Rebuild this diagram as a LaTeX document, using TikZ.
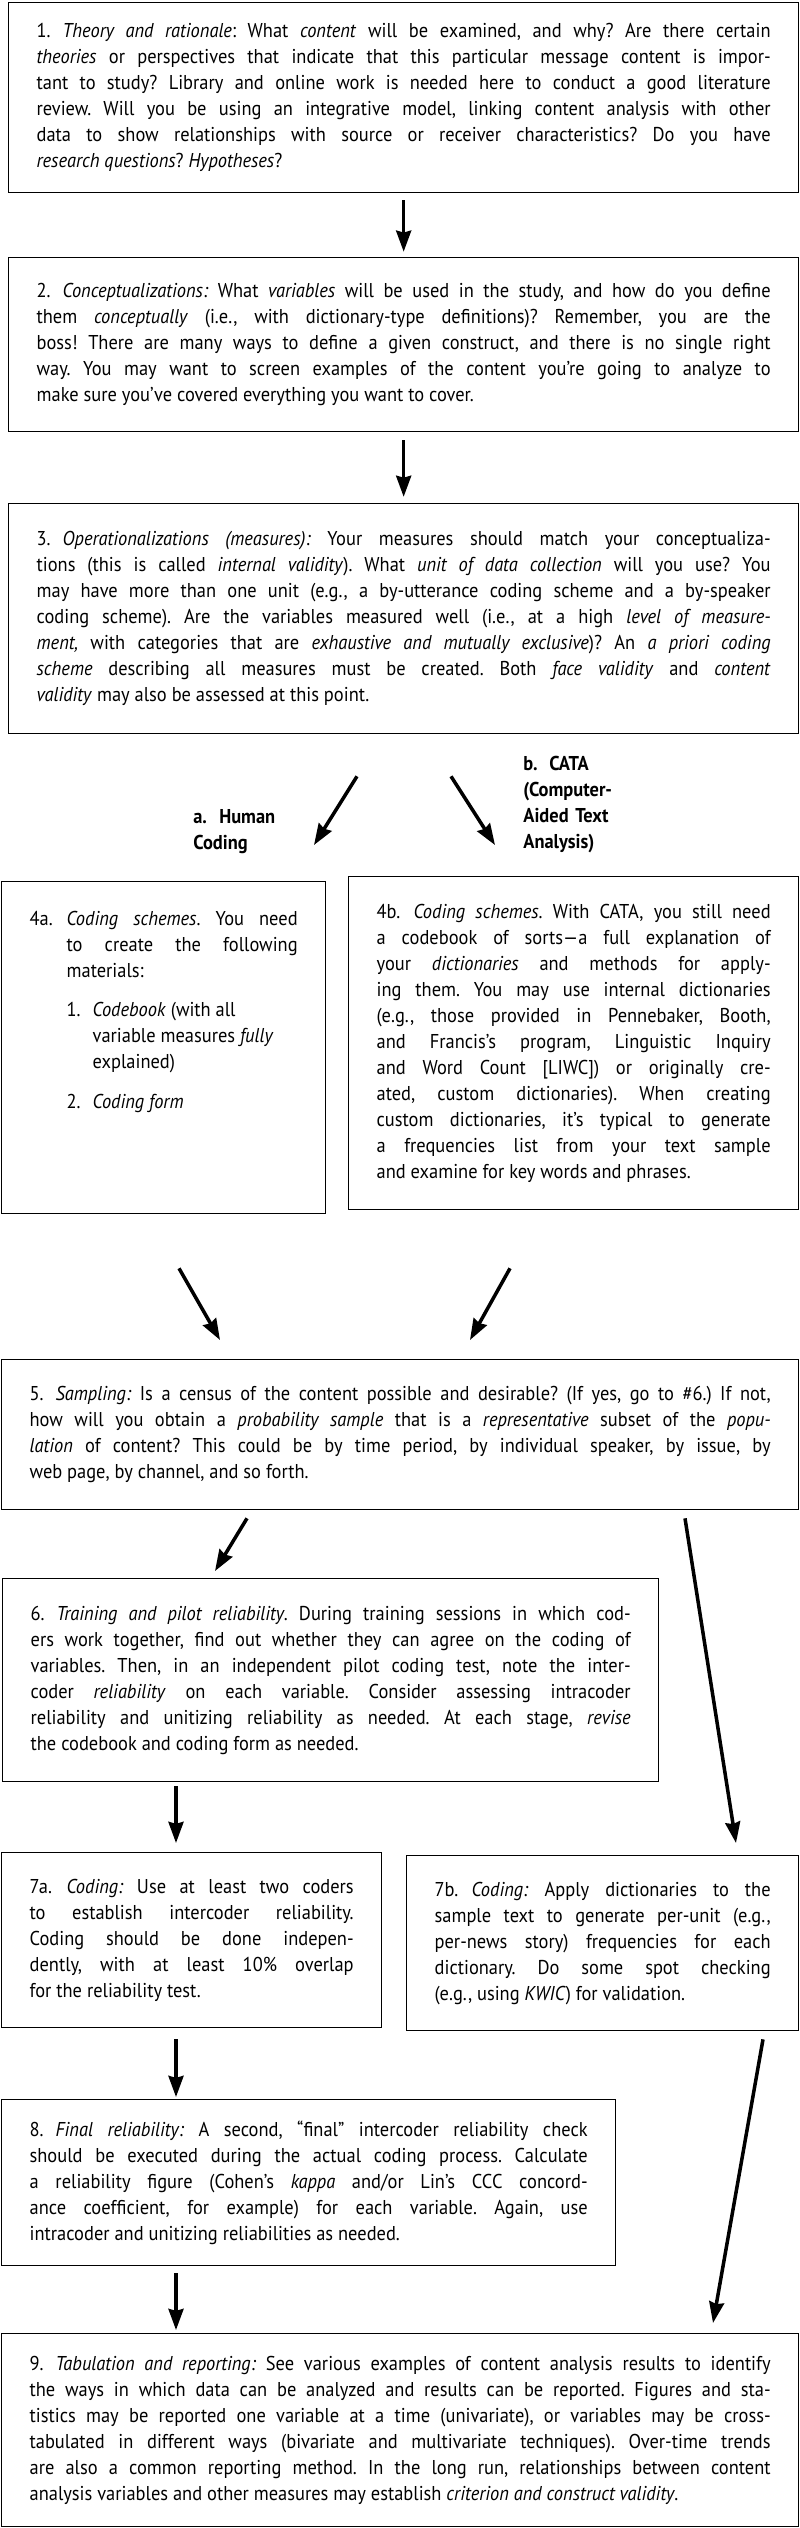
\documentclass[tikz,border=0pt]{standalone}
\usepackage{fontspec}
\setmainfont{PT Sans}[FakeStretch=0.92]
\usepackage{tikz}
\usetikzlibrary{arrows.meta,calc}
\frenchspacing

\newlength{\px}
\setlength{\px}{0.02cm}
\newcommand{\stepno}[2][26\px]{\hangindent=#1\hangafter=1\noindent\makebox[#1][l]{#2}}

\begin{document}
\begin{tikzpicture}[
x=0.02cm,y=-0.02cm,
stepbox/.style={draw, line width=0.75pt, anchor=north west, inner xsep=28\px, inner ysep=0pt, align=justify, font=\fontsize{11.4}{14.8}\selectfont},
pathlabel/.style={anchor=base west, inner sep=0pt, align=left, font=\fontsize{11.4}{14.8}\selectfont\bfseries},
flow/.style={-{Stealth[length=12pt, width=8.5pt, inset=1.1pt]}, line width=2pt}
]
\useasboundingbox (0,0) rectangle (800,2528);

% steps 1 to 3
\node[stepbox, text width=734\px, minimum height=190\px] (b1) at (8,2) {\stepno{1.}\emph{Theory and rationale}: What \emph{content} will be examined, and why? Are there certain\linebreak
\emph{theories} or perspectives that indicate that this particular message content is impor-\linebreak
tant to study? Library and online work is needed here to conduct a good literature\linebreak
review. Will you be using an integrative model, linking content analysis with other\linebreak
data to show relationships with source or receiver characteristics? Do you have\linebreak
\emph{research questions}? \emph{Hypotheses}?};

\node[stepbox, text width=734\px, minimum height=174\px] (b2) at (8,257) {\stepno{2.}\emph{Conceptualizations:} What \emph{variables} will be used in the study, and how do you define\linebreak
them \emph{conceptually} (i.e., with dictionary-type definitions)? Remember, you are the\linebreak
boss! There are many ways to define a given construct, and there is no single right\linebreak
way. You may want to screen examples of the content you’re going to analyze to\linebreak
make sure you’ve covered everything you want to cover.};

\node[stepbox, text width=734\px, minimum height=230\px] (b3) at (8,503) {\stepno{3.}\emph{Operationalizations (measures):} Your measures should match your conceptualiza-\linebreak
tions (this is called \emph{internal validity}). What \emph{unit of data collection} will you use? You\linebreak
may have more than one unit (e.g., a by-utterance coding scheme and a by-speaker\linebreak
coding scheme). Are the variables measured well (i.e., at a high \emph{level of measure-}\linebreak
\emph{ment,} with categories that are \emph{exhaustive and mutually exclusive})? An \emph{a priori coding}\linebreak
\emph{scheme} describing all measures must be created. Both \emph{face validity} and \emph{content}\linebreak
\emph{validity} may also be assessed at this point.};

% the two paths
\node[pathlabel, text width=130\px] (hum) at (193,823) {\stepno{a.}Human\newline Coding};
\node[pathlabel, text width=140\px] (cata) at (523,770) {\stepno{b.}CATA\newline (Computer-\newline Aided Text\newline Analysis)};

\node[stepbox, text width=268\px, minimum height=332\px] (b4a) at (1,881) {\stepno[37\px]{4a.}\emph{Coding schemes}. You need\linebreak
to create the following\linebreak
materials:\par
\vspace{13\px}
{\leftskip=37\px\rightskip=0pt plus 1fil
\stepno{1.}\emph{Codebook} (with all\newline
variable measures \emph{fully}\newline
explained)\par
\vspace{14\px}
\stepno{2.}\emph{Coding form}\par}
\vspace{72\px}\hrule height 0pt};

\node[stepbox, text width=394\px, minimum height=333\px] (b4b) at (348,876) {\stepno[37\px]{4b.}\emph{Coding schemes}. With CATA, you still need\linebreak
a codebook of sorts—a full explanation of\linebreak
your \emph{dictionaries} and methods for apply-\linebreak
ing them. You may use internal dictionaries\linebreak
(e.g., those provided in Pennebaker, Booth,\linebreak
and Francis’s program, Linguistic Inquiry\linebreak
and Word Count [LIWC]) or originally cre-\linebreak
ated, custom dictionaries). When creating\linebreak
custom dictionaries, it’s typical to generate\linebreak
a frequencies list from your text sample\linebreak
and examine for key words and phrases.};

% sampling and coding
\node[stepbox, text width=741\px, minimum height=150\px] (b5) at (1,1359) {\stepno{5.}\emph{Sampling:} Is a census of the content possible and desirable? (If yes, go to \#6.) If not,\linebreak
how will you obtain a \emph{probability sample} that is a \emph{representative} subset of the \emph{popu-}\linebreak
\emph{lation} of content? This could be by time period, by individual speaker, by issue, by\linebreak
web page, by channel, and so forth.};

\node[stepbox, text width=600\px, minimum height=203\px] (b6) at (2,1578) {\stepno{6.}\emph{Training and pilot reliability}. During training sessions in which cod-\linebreak
ers work together, find out whether they can agree on the coding of\linebreak
variables. Then, in an independent pilot coding test, note the inter-\linebreak
coder \emph{reliability} on each variable. Consider assessing intracoder\linebreak
reliability and unitizing reliability as needed. At each stage, \emph{revise}\linebreak
the codebook and coding form as needed.};

\node[stepbox, text width=324\px, minimum height=175\px] (b7a) at (1,1852) {\stepno[37\px]{7a.}\emph{Coding:} Use at least two coders\linebreak
to establish intercoder reliability.\linebreak
Coding should be done indepen-\linebreak
dently, with at least 10\% overlap\linebreak
for the reliability test.};

\node[stepbox, text width=336\px, minimum height=175\px] (b7b) at (406,1855) {\stepno[37\px]{7b.}\emph{Coding:} Apply dictionaries to the\linebreak
sample text to generate per-unit (e.g.,\linebreak
per-news story) frequencies for each\linebreak
dictionary. Do some spot checking\linebreak
(e.g., using \emph{KWIC}) for validation.};

\node[stepbox, text width=558\px, minimum height=166\px] (b8) at (1,2099) {\stepno{8.}\emph{Final reliability:} A second, “final” intercoder reliability check\linebreak
should be executed during the actual coding process. Calculate\linebreak
a reliability figure (Cohen’s \emph{kappa} and/or Lin’s CCC concord-\linebreak
ance coefficient, for example) for each variable. Again, use\linebreak
intracoder and unitizing reliabilities as needed.};

\node[stepbox, text width=741\px, minimum height=193\px] (b9) at (1,2333) {\stepno{9.}\emph{Tabulation and reporting:} See various examples of content analysis results to identify\linebreak
the ways in which data can be analyzed and results can be reported. Figures and sta-\linebreak
tistics may be reported one variable at a time (univariate), or variables may be cross-\linebreak
tabulated in different ways (bivariate and multivariate techniques). Over-time trends\linebreak
are also a common reporting method. In the long run, relationships between content\linebreak
analysis variables and other measures may establish \emph{criterion and construct validity}.};

% arrows
\draw[flow, shorten <=4pt, shorten >=3pt] (b1) -- (b2);
\draw[flow, shorten <=4.5pt, shorten >=3.5pt] (b2) -- (b3);
\draw[flow] ($(b3.south west)+(349,42)$) -- ($(b4a.north west)+(313,-36)$);
\draw[flow] ($(b3.south west)+(443,42)$) -- ($(b4b.north west)+(147,-31)$);
\draw[flow] ($(b4a.south west)+(178,54)$) -- ($(b5.north west)+(219,-19)$);
\draw[flow] ($(b4b.south west)+(162,58)$) -- ($(b5.north west)+(469,-19)$);
\draw[flow] ($(b5.south west)+(246,8)$) -- ($(b6.north west)+(213,-7)$);
\draw[flow] ($(b5.south west)+(684,8)$) -- ($(b7b.north west)+(330,-12)$);
\draw[flow] ($(b6.south west)+(174,4)$) -- ($(b7a.north west)+(175,-9)$);
\draw[flow] ($(b7a.south west)+(175,11)$) -- ($(b8.north west)+(175,-2)$);
\draw[flow] ($(b7b.south west)+(357,8)$) -- ($(b9.north west)+(712,-10)$);
\draw[flow] ($(b8.south west)+(175,7)$) -- ($(b9.north west)+(175,-3)$);
\end{tikzpicture}
\end{document}
